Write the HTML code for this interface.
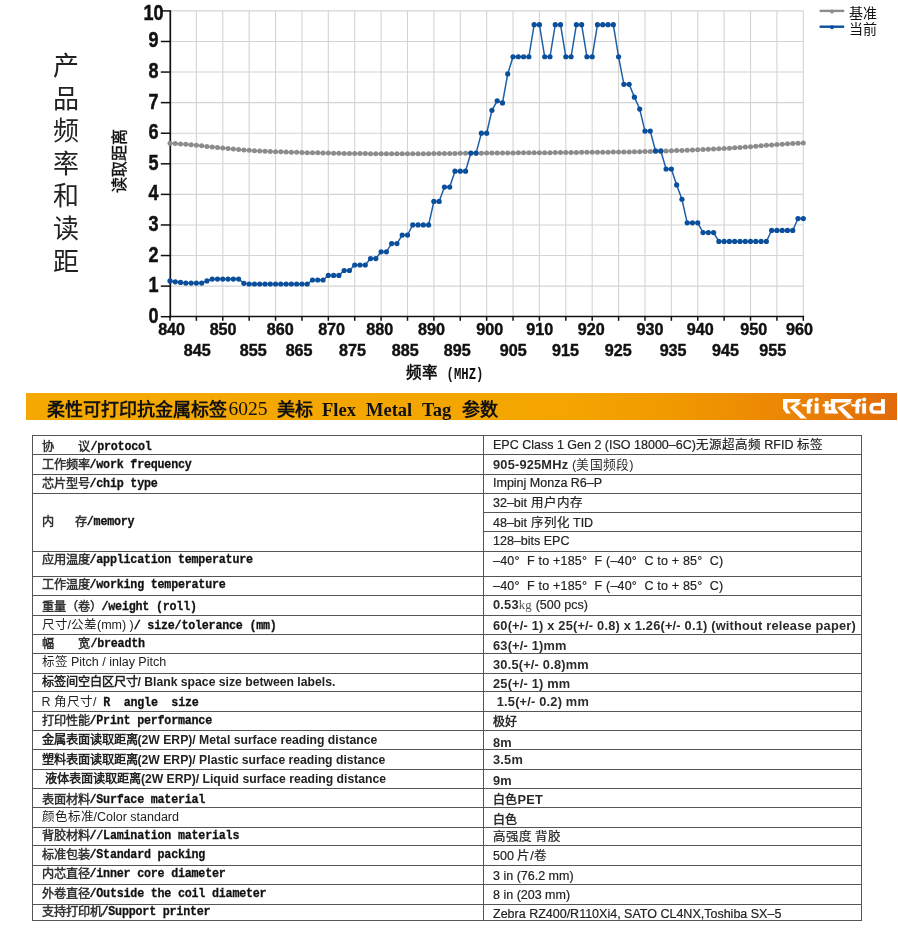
<!DOCTYPE html>
<html lang="zh-CN">
<head>
<meta charset="utf-8">
<style>
html,body{margin:0;padding:0;background:#fff;}
body{width:898px;height:930px;position:relative;overflow:hidden;will-change:transform;font-family:"Liberation Sans",sans-serif;color:#111;}
.abs{position:absolute;white-space:nowrap;}
svg text.yl{font-family:"Liberation Sans",sans-serif;font-weight:bold;font-size:22px;fill:#111;stroke:#111;stroke-width:0.5px;}
svg text.xl{font-family:"Liberation Sans",sans-serif;font-weight:bold;font-size:17px;fill:#111;stroke:#111;stroke-width:0.45px;}
.vt{position:absolute;left:52.5px;top:51px;width:27px;font-family:"Liberation Serif",serif;font-size:26px;line-height:32.6px;color:#222;text-align:center;}
.ytitle{position:absolute;left:87.5px;top:153px;width:64px;height:16px;transform:rotate(-90deg);font-weight:normal;font-size:16px;line-height:16px;color:#111;-webkit-text-stroke:0.4px #111;text-align:center;transform-origin:center;}
.xtitle{position:absolute;left:405.5px;top:364px;font-weight:bold;font-size:15.5px;line-height:18px;color:#111;}
.leg{position:absolute;font-size:14px;line-height:15px;color:#111;}
.bar{position:absolute;left:26px;top:393px;width:871px;height:27px;background:linear-gradient(to right,#f5a900 0%,#f4a500 62%,#f19800 75%,#eb8504 88%,#e26a0a 100%);}
.ttl{position:absolute;left:48px;top:398.5px;font-family:"Liberation Serif",serif;font-weight:bold;font-size:18px;line-height:22px;color:#111;}
.hl{position:absolute;height:1px;background:#555;}
.vl{position:absolute;width:1px;background:#555;}
.c1{position:absolute;left:41.5px;font-family:"Liberation Mono",monospace;font-weight:bold;font-size:11.7px;letter-spacing:-0.21px;line-height:14px;color:#111;white-space:pre;-webkit-text-stroke:0.25px #111;}
.c1 .z{font-size:12.2px;letter-spacing:0;font-weight:bold;color:#333;position:relative;top:1px;-webkit-text-stroke:0;}
.c1 .g{display:inline-block;}
.c1 .m{display:inline-block;transform:scaleY(1.15);transform-origin:0 75%;}
.c1 .s{font-family:"Liberation Sans",sans-serif;font-weight:normal;font-size:12.5px;letter-spacing:0;-webkit-text-stroke:0;color:#222;}
.c1 .sb{font-family:"Liberation Sans",sans-serif;font-weight:bold;font-size:12.2px;letter-spacing:0;-webkit-text-stroke:0;color:#222;}
.c2{position:absolute;left:493px;font-family:"Liberation Sans",sans-serif;font-size:12.5px;line-height:14px;color:#222;white-space:nowrap;-webkit-text-stroke:0.2px #222;}
.c2.b{font-weight:bold;font-size:12.8px;letter-spacing:0.2px;color:#2a2a2a;-webkit-text-stroke:0;}
.c2 .zc{font-size:12px;}
</style>
</head>
<body>
<svg width="898" height="390" style="position:absolute;left:0;top:0">
<line x1="196.39" y1="10.7" x2="196.39" y2="316.7" stroke="#d4d4d4" stroke-width="1.1"/>
<line x1="222.78" y1="10.7" x2="222.78" y2="316.7" stroke="#d4d4d4" stroke-width="1.1"/>
<line x1="249.16" y1="10.7" x2="249.16" y2="316.7" stroke="#d4d4d4" stroke-width="1.1"/>
<line x1="275.55" y1="10.7" x2="275.55" y2="316.7" stroke="#d4d4d4" stroke-width="1.1"/>
<line x1="301.94" y1="10.7" x2="301.94" y2="316.7" stroke="#d4d4d4" stroke-width="1.1"/>
<line x1="328.32" y1="10.7" x2="328.32" y2="316.7" stroke="#d4d4d4" stroke-width="1.1"/>
<line x1="354.71" y1="10.7" x2="354.71" y2="316.7" stroke="#d4d4d4" stroke-width="1.1"/>
<line x1="381.10" y1="10.7" x2="381.10" y2="316.7" stroke="#d4d4d4" stroke-width="1.1"/>
<line x1="407.49" y1="10.7" x2="407.49" y2="316.7" stroke="#d4d4d4" stroke-width="1.1"/>
<line x1="433.88" y1="10.7" x2="433.88" y2="316.7" stroke="#d4d4d4" stroke-width="1.1"/>
<line x1="460.26" y1="10.7" x2="460.26" y2="316.7" stroke="#d4d4d4" stroke-width="1.1"/>
<line x1="486.65" y1="10.7" x2="486.65" y2="316.7" stroke="#d4d4d4" stroke-width="1.1"/>
<line x1="513.04" y1="10.7" x2="513.04" y2="316.7" stroke="#d4d4d4" stroke-width="1.1"/>
<line x1="539.42" y1="10.7" x2="539.42" y2="316.7" stroke="#d4d4d4" stroke-width="1.1"/>
<line x1="565.81" y1="10.7" x2="565.81" y2="316.7" stroke="#d4d4d4" stroke-width="1.1"/>
<line x1="592.20" y1="10.7" x2="592.20" y2="316.7" stroke="#d4d4d4" stroke-width="1.1"/>
<line x1="618.59" y1="10.7" x2="618.59" y2="316.7" stroke="#d4d4d4" stroke-width="1.1"/>
<line x1="644.97" y1="10.7" x2="644.97" y2="316.7" stroke="#d4d4d4" stroke-width="1.1"/>
<line x1="671.36" y1="10.7" x2="671.36" y2="316.7" stroke="#d4d4d4" stroke-width="1.1"/>
<line x1="697.75" y1="10.7" x2="697.75" y2="316.7" stroke="#d4d4d4" stroke-width="1.1"/>
<line x1="724.14" y1="10.7" x2="724.14" y2="316.7" stroke="#d4d4d4" stroke-width="1.1"/>
<line x1="750.52" y1="10.7" x2="750.52" y2="316.7" stroke="#d4d4d4" stroke-width="1.1"/>
<line x1="776.91" y1="10.7" x2="776.91" y2="316.7" stroke="#d4d4d4" stroke-width="1.1"/>
<line x1="803.30" y1="10.7" x2="803.30" y2="316.7" stroke="#d4d4d4" stroke-width="1.1"/>
<line x1="170.0" y1="286.12" x2="803.30" y2="286.12" stroke="#d4d4d4" stroke-width="1.1"/>
<line x1="170.0" y1="255.54" x2="803.30" y2="255.54" stroke="#d4d4d4" stroke-width="1.1"/>
<line x1="170.0" y1="224.96" x2="803.30" y2="224.96" stroke="#d4d4d4" stroke-width="1.1"/>
<line x1="170.0" y1="194.38" x2="803.30" y2="194.38" stroke="#d4d4d4" stroke-width="1.1"/>
<line x1="170.0" y1="163.80" x2="803.30" y2="163.80" stroke="#d4d4d4" stroke-width="1.1"/>
<line x1="170.0" y1="133.22" x2="803.30" y2="133.22" stroke="#d4d4d4" stroke-width="1.1"/>
<line x1="170.0" y1="102.64" x2="803.30" y2="102.64" stroke="#d4d4d4" stroke-width="1.1"/>
<line x1="170.0" y1="72.06" x2="803.30" y2="72.06" stroke="#d4d4d4" stroke-width="1.1"/>
<line x1="170.0" y1="41.48" x2="803.30" y2="41.48" stroke="#d4d4d4" stroke-width="1.1"/>
<line x1="170.0" y1="10.90" x2="803.30" y2="10.90" stroke="#d4d4d4" stroke-width="1.1"/>
<line x1="170.3" y1="10.2" x2="170.3" y2="317.5" stroke="#111" stroke-width="1.7"/>
<line x1="169.4" y1="316.5" x2="804.10" y2="316.5" stroke="#111" stroke-width="1.7"/>
<line x1="160.8" y1="316.70" x2="170.0" y2="316.70" stroke="#111" stroke-width="1.5"/>
<line x1="160.8" y1="286.12" x2="170.0" y2="286.12" stroke="#111" stroke-width="1.5"/>
<line x1="160.8" y1="255.54" x2="170.0" y2="255.54" stroke="#111" stroke-width="1.5"/>
<line x1="160.8" y1="224.96" x2="170.0" y2="224.96" stroke="#111" stroke-width="1.5"/>
<line x1="160.8" y1="194.38" x2="170.0" y2="194.38" stroke="#111" stroke-width="1.5"/>
<line x1="160.8" y1="163.80" x2="170.0" y2="163.80" stroke="#111" stroke-width="1.5"/>
<line x1="160.8" y1="133.22" x2="170.0" y2="133.22" stroke="#111" stroke-width="1.5"/>
<line x1="160.8" y1="102.64" x2="170.0" y2="102.64" stroke="#111" stroke-width="1.5"/>
<line x1="160.8" y1="72.06" x2="170.0" y2="72.06" stroke="#111" stroke-width="1.5"/>
<line x1="160.8" y1="41.48" x2="170.0" y2="41.48" stroke="#111" stroke-width="1.5"/>
<line x1="160.8" y1="10.90" x2="170.0" y2="10.90" stroke="#111" stroke-width="1.5"/>
<line x1="170.00" y1="316.7" x2="170.00" y2="320.8" stroke="#111" stroke-width="1.5"/>
<line x1="196.39" y1="316.7" x2="196.39" y2="320.8" stroke="#111" stroke-width="1.5"/>
<line x1="222.78" y1="316.7" x2="222.78" y2="320.8" stroke="#111" stroke-width="1.5"/>
<line x1="249.16" y1="316.7" x2="249.16" y2="320.8" stroke="#111" stroke-width="1.5"/>
<line x1="275.55" y1="316.7" x2="275.55" y2="320.8" stroke="#111" stroke-width="1.5"/>
<line x1="301.94" y1="316.7" x2="301.94" y2="320.8" stroke="#111" stroke-width="1.5"/>
<line x1="328.32" y1="316.7" x2="328.32" y2="320.8" stroke="#111" stroke-width="1.5"/>
<line x1="354.71" y1="316.7" x2="354.71" y2="320.8" stroke="#111" stroke-width="1.5"/>
<line x1="381.10" y1="316.7" x2="381.10" y2="320.8" stroke="#111" stroke-width="1.5"/>
<line x1="407.49" y1="316.7" x2="407.49" y2="320.8" stroke="#111" stroke-width="1.5"/>
<line x1="433.88" y1="316.7" x2="433.88" y2="320.8" stroke="#111" stroke-width="1.5"/>
<line x1="460.26" y1="316.7" x2="460.26" y2="320.8" stroke="#111" stroke-width="1.5"/>
<line x1="486.65" y1="316.7" x2="486.65" y2="320.8" stroke="#111" stroke-width="1.5"/>
<line x1="513.04" y1="316.7" x2="513.04" y2="320.8" stroke="#111" stroke-width="1.5"/>
<line x1="539.42" y1="316.7" x2="539.42" y2="320.8" stroke="#111" stroke-width="1.5"/>
<line x1="565.81" y1="316.7" x2="565.81" y2="320.8" stroke="#111" stroke-width="1.5"/>
<line x1="592.20" y1="316.7" x2="592.20" y2="320.8" stroke="#111" stroke-width="1.5"/>
<line x1="618.59" y1="316.7" x2="618.59" y2="320.8" stroke="#111" stroke-width="1.5"/>
<line x1="644.97" y1="316.7" x2="644.97" y2="320.8" stroke="#111" stroke-width="1.5"/>
<line x1="671.36" y1="316.7" x2="671.36" y2="320.8" stroke="#111" stroke-width="1.5"/>
<line x1="697.75" y1="316.7" x2="697.75" y2="320.8" stroke="#111" stroke-width="1.5"/>
<line x1="724.14" y1="316.7" x2="724.14" y2="320.8" stroke="#111" stroke-width="1.5"/>
<line x1="750.52" y1="316.7" x2="750.52" y2="320.8" stroke="#111" stroke-width="1.5"/>
<line x1="776.91" y1="316.7" x2="776.91" y2="320.8" stroke="#111" stroke-width="1.5"/>
<line x1="803.30" y1="316.7" x2="803.30" y2="320.8" stroke="#111" stroke-width="1.5"/>
<polyline points="170.00,143.31 175.28,143.58 180.56,143.93 185.83,144.34 191.11,144.79 196.39,145.29 201.66,145.82 206.94,146.38 212.22,146.94 217.50,147.50 222.78,148.06 228.05,148.59 233.33,149.10 238.61,149.57 243.88,149.99 249.16,150.34 254.44,150.66 259.72,150.94 265.00,151.20 270.27,151.44 275.55,151.66 280.83,151.86 286.11,152.04 291.38,152.20 296.66,152.36 301.94,152.50 307.22,152.63 312.49,152.75 317.77,152.87 323.05,152.98 328.32,153.10 333.60,153.20 338.88,153.30 344.16,153.38 349.44,153.45 354.71,153.50 359.99,153.55 365.27,153.60 370.54,153.63 375.82,153.65 381.10,153.67 386.38,153.69 391.65,153.70 396.93,153.70 402.21,153.71 407.49,153.71 412.76,153.70 418.04,153.69 423.32,153.66 428.60,153.63 433.88,153.60 439.15,153.55 444.43,153.50 449.71,153.45 454.99,153.40 460.26,153.35 465.54,153.29 470.82,153.24 476.09,153.19 481.37,153.14 486.65,153.10 491.93,153.06 497.20,153.02 502.48,152.98 507.76,152.94 513.04,152.90 518.32,152.87 523.59,152.83 528.87,152.79 534.15,152.75 539.42,152.71 544.70,152.67 549.98,152.63 555.26,152.58 560.53,152.54 565.81,152.49 571.09,152.44 576.37,152.39 581.64,152.36 586.92,152.32 592.20,152.28 597.48,152.24 602.75,152.20 608.03,152.16 613.31,152.10 618.59,152.04 623.87,151.97 629.14,151.89 634.42,151.80 639.70,151.69 644.97,151.57 650.25,151.43 655.53,151.29 660.81,151.13 666.09,150.97 671.36,150.80 676.64,150.62 681.92,150.43 687.19,150.22 692.47,150.01 697.75,149.79 703.03,149.56 708.30,149.31 713.58,149.06 718.86,148.79 724.14,148.51 729.41,148.20 734.69,147.86 739.97,147.48 745.25,147.07 750.52,146.65 755.80,146.22 761.08,145.78 766.36,145.35 771.63,144.93 776.91,144.52 782.19,144.14 787.47,143.79 792.75,143.48 798.02,143.22 803.30,143.01" fill="none" stroke="#8c8c8c" stroke-width="1.5"/>
<circle cx="170.00" cy="143.31" r="2.5" fill="#8c8c8c"/>
<circle cx="175.28" cy="143.58" r="2.5" fill="#8c8c8c"/>
<circle cx="180.56" cy="143.93" r="2.5" fill="#8c8c8c"/>
<circle cx="185.83" cy="144.34" r="2.5" fill="#8c8c8c"/>
<circle cx="191.11" cy="144.79" r="2.5" fill="#8c8c8c"/>
<circle cx="196.39" cy="145.29" r="2.5" fill="#8c8c8c"/>
<circle cx="201.66" cy="145.82" r="2.5" fill="#8c8c8c"/>
<circle cx="206.94" cy="146.38" r="2.5" fill="#8c8c8c"/>
<circle cx="212.22" cy="146.94" r="2.5" fill="#8c8c8c"/>
<circle cx="217.50" cy="147.50" r="2.5" fill="#8c8c8c"/>
<circle cx="222.78" cy="148.06" r="2.5" fill="#8c8c8c"/>
<circle cx="228.05" cy="148.59" r="2.5" fill="#8c8c8c"/>
<circle cx="233.33" cy="149.10" r="2.5" fill="#8c8c8c"/>
<circle cx="238.61" cy="149.57" r="2.5" fill="#8c8c8c"/>
<circle cx="243.88" cy="149.99" r="2.5" fill="#8c8c8c"/>
<circle cx="249.16" cy="150.34" r="2.5" fill="#8c8c8c"/>
<circle cx="254.44" cy="150.66" r="2.5" fill="#8c8c8c"/>
<circle cx="259.72" cy="150.94" r="2.5" fill="#8c8c8c"/>
<circle cx="265.00" cy="151.20" r="2.5" fill="#8c8c8c"/>
<circle cx="270.27" cy="151.44" r="2.5" fill="#8c8c8c"/>
<circle cx="275.55" cy="151.66" r="2.5" fill="#8c8c8c"/>
<circle cx="280.83" cy="151.86" r="2.5" fill="#8c8c8c"/>
<circle cx="286.11" cy="152.04" r="2.5" fill="#8c8c8c"/>
<circle cx="291.38" cy="152.20" r="2.5" fill="#8c8c8c"/>
<circle cx="296.66" cy="152.36" r="2.5" fill="#8c8c8c"/>
<circle cx="301.94" cy="152.50" r="2.5" fill="#8c8c8c"/>
<circle cx="307.22" cy="152.63" r="2.5" fill="#8c8c8c"/>
<circle cx="312.49" cy="152.75" r="2.5" fill="#8c8c8c"/>
<circle cx="317.77" cy="152.87" r="2.5" fill="#8c8c8c"/>
<circle cx="323.05" cy="152.98" r="2.5" fill="#8c8c8c"/>
<circle cx="328.32" cy="153.10" r="2.5" fill="#8c8c8c"/>
<circle cx="333.60" cy="153.20" r="2.5" fill="#8c8c8c"/>
<circle cx="338.88" cy="153.30" r="2.5" fill="#8c8c8c"/>
<circle cx="344.16" cy="153.38" r="2.5" fill="#8c8c8c"/>
<circle cx="349.44" cy="153.45" r="2.5" fill="#8c8c8c"/>
<circle cx="354.71" cy="153.50" r="2.5" fill="#8c8c8c"/>
<circle cx="359.99" cy="153.55" r="2.5" fill="#8c8c8c"/>
<circle cx="365.27" cy="153.60" r="2.5" fill="#8c8c8c"/>
<circle cx="370.54" cy="153.63" r="2.5" fill="#8c8c8c"/>
<circle cx="375.82" cy="153.65" r="2.5" fill="#8c8c8c"/>
<circle cx="381.10" cy="153.67" r="2.5" fill="#8c8c8c"/>
<circle cx="386.38" cy="153.69" r="2.5" fill="#8c8c8c"/>
<circle cx="391.65" cy="153.70" r="2.5" fill="#8c8c8c"/>
<circle cx="396.93" cy="153.70" r="2.5" fill="#8c8c8c"/>
<circle cx="402.21" cy="153.71" r="2.5" fill="#8c8c8c"/>
<circle cx="407.49" cy="153.71" r="2.5" fill="#8c8c8c"/>
<circle cx="412.76" cy="153.70" r="2.5" fill="#8c8c8c"/>
<circle cx="418.04" cy="153.69" r="2.5" fill="#8c8c8c"/>
<circle cx="423.32" cy="153.66" r="2.5" fill="#8c8c8c"/>
<circle cx="428.60" cy="153.63" r="2.5" fill="#8c8c8c"/>
<circle cx="433.88" cy="153.60" r="2.5" fill="#8c8c8c"/>
<circle cx="439.15" cy="153.55" r="2.5" fill="#8c8c8c"/>
<circle cx="444.43" cy="153.50" r="2.5" fill="#8c8c8c"/>
<circle cx="449.71" cy="153.45" r="2.5" fill="#8c8c8c"/>
<circle cx="454.99" cy="153.40" r="2.5" fill="#8c8c8c"/>
<circle cx="460.26" cy="153.35" r="2.5" fill="#8c8c8c"/>
<circle cx="465.54" cy="153.29" r="2.5" fill="#8c8c8c"/>
<circle cx="470.82" cy="153.24" r="2.5" fill="#8c8c8c"/>
<circle cx="476.09" cy="153.19" r="2.5" fill="#8c8c8c"/>
<circle cx="481.37" cy="153.14" r="2.5" fill="#8c8c8c"/>
<circle cx="486.65" cy="153.10" r="2.5" fill="#8c8c8c"/>
<circle cx="491.93" cy="153.06" r="2.5" fill="#8c8c8c"/>
<circle cx="497.20" cy="153.02" r="2.5" fill="#8c8c8c"/>
<circle cx="502.48" cy="152.98" r="2.5" fill="#8c8c8c"/>
<circle cx="507.76" cy="152.94" r="2.5" fill="#8c8c8c"/>
<circle cx="513.04" cy="152.90" r="2.5" fill="#8c8c8c"/>
<circle cx="518.32" cy="152.87" r="2.5" fill="#8c8c8c"/>
<circle cx="523.59" cy="152.83" r="2.5" fill="#8c8c8c"/>
<circle cx="528.87" cy="152.79" r="2.5" fill="#8c8c8c"/>
<circle cx="534.15" cy="152.75" r="2.5" fill="#8c8c8c"/>
<circle cx="539.42" cy="152.71" r="2.5" fill="#8c8c8c"/>
<circle cx="544.70" cy="152.67" r="2.5" fill="#8c8c8c"/>
<circle cx="549.98" cy="152.63" r="2.5" fill="#8c8c8c"/>
<circle cx="555.26" cy="152.58" r="2.5" fill="#8c8c8c"/>
<circle cx="560.53" cy="152.54" r="2.5" fill="#8c8c8c"/>
<circle cx="565.81" cy="152.49" r="2.5" fill="#8c8c8c"/>
<circle cx="571.09" cy="152.44" r="2.5" fill="#8c8c8c"/>
<circle cx="576.37" cy="152.39" r="2.5" fill="#8c8c8c"/>
<circle cx="581.64" cy="152.36" r="2.5" fill="#8c8c8c"/>
<circle cx="586.92" cy="152.32" r="2.5" fill="#8c8c8c"/>
<circle cx="592.20" cy="152.28" r="2.5" fill="#8c8c8c"/>
<circle cx="597.48" cy="152.24" r="2.5" fill="#8c8c8c"/>
<circle cx="602.75" cy="152.20" r="2.5" fill="#8c8c8c"/>
<circle cx="608.03" cy="152.16" r="2.5" fill="#8c8c8c"/>
<circle cx="613.31" cy="152.10" r="2.5" fill="#8c8c8c"/>
<circle cx="618.59" cy="152.04" r="2.5" fill="#8c8c8c"/>
<circle cx="623.87" cy="151.97" r="2.5" fill="#8c8c8c"/>
<circle cx="629.14" cy="151.89" r="2.5" fill="#8c8c8c"/>
<circle cx="634.42" cy="151.80" r="2.5" fill="#8c8c8c"/>
<circle cx="639.70" cy="151.69" r="2.5" fill="#8c8c8c"/>
<circle cx="644.97" cy="151.57" r="2.5" fill="#8c8c8c"/>
<circle cx="650.25" cy="151.43" r="2.5" fill="#8c8c8c"/>
<circle cx="655.53" cy="151.29" r="2.5" fill="#8c8c8c"/>
<circle cx="660.81" cy="151.13" r="2.5" fill="#8c8c8c"/>
<circle cx="666.09" cy="150.97" r="2.5" fill="#8c8c8c"/>
<circle cx="671.36" cy="150.80" r="2.5" fill="#8c8c8c"/>
<circle cx="676.64" cy="150.62" r="2.5" fill="#8c8c8c"/>
<circle cx="681.92" cy="150.43" r="2.5" fill="#8c8c8c"/>
<circle cx="687.19" cy="150.22" r="2.5" fill="#8c8c8c"/>
<circle cx="692.47" cy="150.01" r="2.5" fill="#8c8c8c"/>
<circle cx="697.75" cy="149.79" r="2.5" fill="#8c8c8c"/>
<circle cx="703.03" cy="149.56" r="2.5" fill="#8c8c8c"/>
<circle cx="708.30" cy="149.31" r="2.5" fill="#8c8c8c"/>
<circle cx="713.58" cy="149.06" r="2.5" fill="#8c8c8c"/>
<circle cx="718.86" cy="148.79" r="2.5" fill="#8c8c8c"/>
<circle cx="724.14" cy="148.51" r="2.5" fill="#8c8c8c"/>
<circle cx="729.41" cy="148.20" r="2.5" fill="#8c8c8c"/>
<circle cx="734.69" cy="147.86" r="2.5" fill="#8c8c8c"/>
<circle cx="739.97" cy="147.48" r="2.5" fill="#8c8c8c"/>
<circle cx="745.25" cy="147.07" r="2.5" fill="#8c8c8c"/>
<circle cx="750.52" cy="146.65" r="2.5" fill="#8c8c8c"/>
<circle cx="755.80" cy="146.22" r="2.5" fill="#8c8c8c"/>
<circle cx="761.08" cy="145.78" r="2.5" fill="#8c8c8c"/>
<circle cx="766.36" cy="145.35" r="2.5" fill="#8c8c8c"/>
<circle cx="771.63" cy="144.93" r="2.5" fill="#8c8c8c"/>
<circle cx="776.91" cy="144.52" r="2.5" fill="#8c8c8c"/>
<circle cx="782.19" cy="144.14" r="2.5" fill="#8c8c8c"/>
<circle cx="787.47" cy="143.79" r="2.5" fill="#8c8c8c"/>
<circle cx="792.75" cy="143.48" r="2.5" fill="#8c8c8c"/>
<circle cx="798.02" cy="143.22" r="2.5" fill="#8c8c8c"/>
<circle cx="803.30" cy="143.01" r="2.5" fill="#8c8c8c"/>
<polyline points="170.00,280.92 175.28,281.84 180.56,282.45 185.83,283.06 191.11,283.06 196.39,283.06 201.66,283.06 206.94,280.92 212.22,279.09 217.50,279.09 222.78,279.09 228.05,279.09 233.33,279.09 238.61,279.09 243.88,283.37 249.16,283.98 254.44,283.98 259.72,283.98 265.00,283.98 270.27,283.98 275.55,283.98 280.83,283.98 286.11,283.98 291.38,283.98 296.66,283.98 301.94,283.98 307.22,283.98 312.49,280.00 317.77,280.00 323.05,280.00 328.32,275.42 333.60,275.42 338.88,275.42 344.16,270.52 349.44,270.52 354.71,265.02 359.99,265.02 365.27,265.02 370.54,258.60 375.82,258.60 381.10,251.87 386.38,251.87 391.65,243.61 396.93,243.61 402.21,235.05 407.49,235.05 412.76,224.96 418.04,224.96 423.32,224.96 428.60,224.96 433.88,201.41 439.15,201.41 444.43,187.04 449.71,187.04 454.99,171.14 460.26,171.14 465.54,171.14 470.82,153.10 476.09,153.10 481.37,133.22 486.65,133.22 491.93,110.28 497.20,100.81 502.48,102.95 507.76,73.89 513.04,56.77 518.32,56.77 523.59,56.77 528.87,56.77 534.15,24.66 539.42,24.66 544.70,56.77 549.98,56.77 555.26,24.66 560.53,24.66 565.81,56.77 571.09,56.77 576.37,24.66 581.64,24.66 586.92,56.77 592.20,56.77 597.48,24.66 602.75,24.66 608.03,24.66 613.31,24.66 618.59,56.77 623.87,84.29 629.14,84.29 634.42,97.14 639.70,109.06 644.97,131.08 650.25,131.08 655.53,150.96 660.81,150.96 666.09,169.00 671.36,169.00 676.64,184.90 681.92,199.27 687.19,222.82 692.47,222.82 697.75,222.82 703.03,232.60 708.30,232.60 713.58,232.60 718.86,241.47 724.14,241.47 729.41,241.47 734.69,241.47 739.97,241.47 745.25,241.47 750.52,241.47 755.80,241.47 761.08,241.47 766.36,241.47 771.63,230.46 776.91,230.46 782.19,230.46 787.47,230.46 792.75,230.46 798.02,218.54 803.30,218.54" fill="none" stroke="#1f5fa6" stroke-width="1.5"/>
<circle cx="170.00" cy="280.92" r="2.6" fill="#0a4f9c"/>
<circle cx="175.28" cy="281.84" r="2.6" fill="#0a4f9c"/>
<circle cx="180.56" cy="282.45" r="2.6" fill="#0a4f9c"/>
<circle cx="185.83" cy="283.06" r="2.6" fill="#0a4f9c"/>
<circle cx="191.11" cy="283.06" r="2.6" fill="#0a4f9c"/>
<circle cx="196.39" cy="283.06" r="2.6" fill="#0a4f9c"/>
<circle cx="201.66" cy="283.06" r="2.6" fill="#0a4f9c"/>
<circle cx="206.94" cy="280.92" r="2.6" fill="#0a4f9c"/>
<circle cx="212.22" cy="279.09" r="2.6" fill="#0a4f9c"/>
<circle cx="217.50" cy="279.09" r="2.6" fill="#0a4f9c"/>
<circle cx="222.78" cy="279.09" r="2.6" fill="#0a4f9c"/>
<circle cx="228.05" cy="279.09" r="2.6" fill="#0a4f9c"/>
<circle cx="233.33" cy="279.09" r="2.6" fill="#0a4f9c"/>
<circle cx="238.61" cy="279.09" r="2.6" fill="#0a4f9c"/>
<circle cx="243.88" cy="283.37" r="2.6" fill="#0a4f9c"/>
<circle cx="249.16" cy="283.98" r="2.6" fill="#0a4f9c"/>
<circle cx="254.44" cy="283.98" r="2.6" fill="#0a4f9c"/>
<circle cx="259.72" cy="283.98" r="2.6" fill="#0a4f9c"/>
<circle cx="265.00" cy="283.98" r="2.6" fill="#0a4f9c"/>
<circle cx="270.27" cy="283.98" r="2.6" fill="#0a4f9c"/>
<circle cx="275.55" cy="283.98" r="2.6" fill="#0a4f9c"/>
<circle cx="280.83" cy="283.98" r="2.6" fill="#0a4f9c"/>
<circle cx="286.11" cy="283.98" r="2.6" fill="#0a4f9c"/>
<circle cx="291.38" cy="283.98" r="2.6" fill="#0a4f9c"/>
<circle cx="296.66" cy="283.98" r="2.6" fill="#0a4f9c"/>
<circle cx="301.94" cy="283.98" r="2.6" fill="#0a4f9c"/>
<circle cx="307.22" cy="283.98" r="2.6" fill="#0a4f9c"/>
<circle cx="312.49" cy="280.00" r="2.6" fill="#0a4f9c"/>
<circle cx="317.77" cy="280.00" r="2.6" fill="#0a4f9c"/>
<circle cx="323.05" cy="280.00" r="2.6" fill="#0a4f9c"/>
<circle cx="328.32" cy="275.42" r="2.6" fill="#0a4f9c"/>
<circle cx="333.60" cy="275.42" r="2.6" fill="#0a4f9c"/>
<circle cx="338.88" cy="275.42" r="2.6" fill="#0a4f9c"/>
<circle cx="344.16" cy="270.52" r="2.6" fill="#0a4f9c"/>
<circle cx="349.44" cy="270.52" r="2.6" fill="#0a4f9c"/>
<circle cx="354.71" cy="265.02" r="2.6" fill="#0a4f9c"/>
<circle cx="359.99" cy="265.02" r="2.6" fill="#0a4f9c"/>
<circle cx="365.27" cy="265.02" r="2.6" fill="#0a4f9c"/>
<circle cx="370.54" cy="258.60" r="2.6" fill="#0a4f9c"/>
<circle cx="375.82" cy="258.60" r="2.6" fill="#0a4f9c"/>
<circle cx="381.10" cy="251.87" r="2.6" fill="#0a4f9c"/>
<circle cx="386.38" cy="251.87" r="2.6" fill="#0a4f9c"/>
<circle cx="391.65" cy="243.61" r="2.6" fill="#0a4f9c"/>
<circle cx="396.93" cy="243.61" r="2.6" fill="#0a4f9c"/>
<circle cx="402.21" cy="235.05" r="2.6" fill="#0a4f9c"/>
<circle cx="407.49" cy="235.05" r="2.6" fill="#0a4f9c"/>
<circle cx="412.76" cy="224.96" r="2.6" fill="#0a4f9c"/>
<circle cx="418.04" cy="224.96" r="2.6" fill="#0a4f9c"/>
<circle cx="423.32" cy="224.96" r="2.6" fill="#0a4f9c"/>
<circle cx="428.60" cy="224.96" r="2.6" fill="#0a4f9c"/>
<circle cx="433.88" cy="201.41" r="2.6" fill="#0a4f9c"/>
<circle cx="439.15" cy="201.41" r="2.6" fill="#0a4f9c"/>
<circle cx="444.43" cy="187.04" r="2.6" fill="#0a4f9c"/>
<circle cx="449.71" cy="187.04" r="2.6" fill="#0a4f9c"/>
<circle cx="454.99" cy="171.14" r="2.6" fill="#0a4f9c"/>
<circle cx="460.26" cy="171.14" r="2.6" fill="#0a4f9c"/>
<circle cx="465.54" cy="171.14" r="2.6" fill="#0a4f9c"/>
<circle cx="470.82" cy="153.10" r="2.6" fill="#0a4f9c"/>
<circle cx="476.09" cy="153.10" r="2.6" fill="#0a4f9c"/>
<circle cx="481.37" cy="133.22" r="2.6" fill="#0a4f9c"/>
<circle cx="486.65" cy="133.22" r="2.6" fill="#0a4f9c"/>
<circle cx="491.93" cy="110.28" r="2.6" fill="#0a4f9c"/>
<circle cx="497.20" cy="100.81" r="2.6" fill="#0a4f9c"/>
<circle cx="502.48" cy="102.95" r="2.6" fill="#0a4f9c"/>
<circle cx="507.76" cy="73.89" r="2.6" fill="#0a4f9c"/>
<circle cx="513.04" cy="56.77" r="2.6" fill="#0a4f9c"/>
<circle cx="518.32" cy="56.77" r="2.6" fill="#0a4f9c"/>
<circle cx="523.59" cy="56.77" r="2.6" fill="#0a4f9c"/>
<circle cx="528.87" cy="56.77" r="2.6" fill="#0a4f9c"/>
<circle cx="534.15" cy="24.66" r="2.6" fill="#0a4f9c"/>
<circle cx="539.42" cy="24.66" r="2.6" fill="#0a4f9c"/>
<circle cx="544.70" cy="56.77" r="2.6" fill="#0a4f9c"/>
<circle cx="549.98" cy="56.77" r="2.6" fill="#0a4f9c"/>
<circle cx="555.26" cy="24.66" r="2.6" fill="#0a4f9c"/>
<circle cx="560.53" cy="24.66" r="2.6" fill="#0a4f9c"/>
<circle cx="565.81" cy="56.77" r="2.6" fill="#0a4f9c"/>
<circle cx="571.09" cy="56.77" r="2.6" fill="#0a4f9c"/>
<circle cx="576.37" cy="24.66" r="2.6" fill="#0a4f9c"/>
<circle cx="581.64" cy="24.66" r="2.6" fill="#0a4f9c"/>
<circle cx="586.92" cy="56.77" r="2.6" fill="#0a4f9c"/>
<circle cx="592.20" cy="56.77" r="2.6" fill="#0a4f9c"/>
<circle cx="597.48" cy="24.66" r="2.6" fill="#0a4f9c"/>
<circle cx="602.75" cy="24.66" r="2.6" fill="#0a4f9c"/>
<circle cx="608.03" cy="24.66" r="2.6" fill="#0a4f9c"/>
<circle cx="613.31" cy="24.66" r="2.6" fill="#0a4f9c"/>
<circle cx="618.59" cy="56.77" r="2.6" fill="#0a4f9c"/>
<circle cx="623.87" cy="84.29" r="2.6" fill="#0a4f9c"/>
<circle cx="629.14" cy="84.29" r="2.6" fill="#0a4f9c"/>
<circle cx="634.42" cy="97.14" r="2.6" fill="#0a4f9c"/>
<circle cx="639.70" cy="109.06" r="2.6" fill="#0a4f9c"/>
<circle cx="644.97" cy="131.08" r="2.6" fill="#0a4f9c"/>
<circle cx="650.25" cy="131.08" r="2.6" fill="#0a4f9c"/>
<circle cx="655.53" cy="150.96" r="2.6" fill="#0a4f9c"/>
<circle cx="660.81" cy="150.96" r="2.6" fill="#0a4f9c"/>
<circle cx="666.09" cy="169.00" r="2.6" fill="#0a4f9c"/>
<circle cx="671.36" cy="169.00" r="2.6" fill="#0a4f9c"/>
<circle cx="676.64" cy="184.90" r="2.6" fill="#0a4f9c"/>
<circle cx="681.92" cy="199.27" r="2.6" fill="#0a4f9c"/>
<circle cx="687.19" cy="222.82" r="2.6" fill="#0a4f9c"/>
<circle cx="692.47" cy="222.82" r="2.6" fill="#0a4f9c"/>
<circle cx="697.75" cy="222.82" r="2.6" fill="#0a4f9c"/>
<circle cx="703.03" cy="232.60" r="2.6" fill="#0a4f9c"/>
<circle cx="708.30" cy="232.60" r="2.6" fill="#0a4f9c"/>
<circle cx="713.58" cy="232.60" r="2.6" fill="#0a4f9c"/>
<circle cx="718.86" cy="241.47" r="2.6" fill="#0a4f9c"/>
<circle cx="724.14" cy="241.47" r="2.6" fill="#0a4f9c"/>
<circle cx="729.41" cy="241.47" r="2.6" fill="#0a4f9c"/>
<circle cx="734.69" cy="241.47" r="2.6" fill="#0a4f9c"/>
<circle cx="739.97" cy="241.47" r="2.6" fill="#0a4f9c"/>
<circle cx="745.25" cy="241.47" r="2.6" fill="#0a4f9c"/>
<circle cx="750.52" cy="241.47" r="2.6" fill="#0a4f9c"/>
<circle cx="755.80" cy="241.47" r="2.6" fill="#0a4f9c"/>
<circle cx="761.08" cy="241.47" r="2.6" fill="#0a4f9c"/>
<circle cx="766.36" cy="241.47" r="2.6" fill="#0a4f9c"/>
<circle cx="771.63" cy="230.46" r="2.6" fill="#0a4f9c"/>
<circle cx="776.91" cy="230.46" r="2.6" fill="#0a4f9c"/>
<circle cx="782.19" cy="230.46" r="2.6" fill="#0a4f9c"/>
<circle cx="787.47" cy="230.46" r="2.6" fill="#0a4f9c"/>
<circle cx="792.75" cy="230.46" r="2.6" fill="#0a4f9c"/>
<circle cx="798.02" cy="218.54" r="2.6" fill="#0a4f9c"/>
<circle cx="803.30" cy="218.54" r="2.6" fill="#0a4f9c"/>
<text x="0" y="0" transform="translate(153.5,322.70) scale(0.82,1)" text-anchor="middle" class="yl">0</text>
<text x="0" y="0" transform="translate(153.5,292.12) scale(0.82,1)" text-anchor="middle" class="yl">1</text>
<text x="0" y="0" transform="translate(153.5,261.54) scale(0.82,1)" text-anchor="middle" class="yl">2</text>
<text x="0" y="0" transform="translate(153.5,230.96) scale(0.82,1)" text-anchor="middle" class="yl">3</text>
<text x="0" y="0" transform="translate(153.5,200.38) scale(0.82,1)" text-anchor="middle" class="yl">4</text>
<text x="0" y="0" transform="translate(153.5,169.80) scale(0.82,1)" text-anchor="middle" class="yl">5</text>
<text x="0" y="0" transform="translate(153.5,139.22) scale(0.82,1)" text-anchor="middle" class="yl">6</text>
<text x="0" y="0" transform="translate(153.5,108.64) scale(0.82,1)" text-anchor="middle" class="yl">7</text>
<text x="0" y="0" transform="translate(153.5,78.06) scale(0.82,1)" text-anchor="middle" class="yl">8</text>
<text x="0" y="0" transform="translate(153.5,47.48) scale(0.82,1)" text-anchor="middle" class="yl">9</text>
<text x="0" y="0" transform="translate(153.5,20.40) scale(0.82,1)" text-anchor="middle" class="yl">10</text>
<text transform="translate(171.6,335.4) scale(0.95,1)" text-anchor="middle" class="xl">840</text>
<text transform="translate(223.1,335.4) scale(0.95,1)" text-anchor="middle" class="xl">850</text>
<text transform="translate(280.2,335.4) scale(0.95,1)" text-anchor="middle" class="xl">860</text>
<text transform="translate(331.6,335.4) scale(0.95,1)" text-anchor="middle" class="xl">870</text>
<text transform="translate(379.8,335.4) scale(0.95,1)" text-anchor="middle" class="xl">880</text>
<text transform="translate(431.4,335.4) scale(0.95,1)" text-anchor="middle" class="xl">890</text>
<text transform="translate(489.7,335.4) scale(0.95,1)" text-anchor="middle" class="xl">900</text>
<text transform="translate(539.8,335.4) scale(0.95,1)" text-anchor="middle" class="xl">910</text>
<text transform="translate(591.3,335.4) scale(0.95,1)" text-anchor="middle" class="xl">920</text>
<text transform="translate(649.9,335.4) scale(0.95,1)" text-anchor="middle" class="xl">930</text>
<text transform="translate(700.2,335.4) scale(0.95,1)" text-anchor="middle" class="xl">940</text>
<text transform="translate(753.8,335.4) scale(0.95,1)" text-anchor="middle" class="xl">950</text>
<text transform="translate(799.5,335.4) scale(0.95,1)" text-anchor="middle" class="xl">960</text>
<text transform="translate(197.2,355.6) scale(0.95,1)" text-anchor="middle" class="xl">845</text>
<text transform="translate(253.2,355.6) scale(0.95,1)" text-anchor="middle" class="xl">855</text>
<text transform="translate(299.1,355.6) scale(0.95,1)" text-anchor="middle" class="xl">865</text>
<text transform="translate(352.5,355.6) scale(0.95,1)" text-anchor="middle" class="xl">875</text>
<text transform="translate(405.3,355.6) scale(0.95,1)" text-anchor="middle" class="xl">885</text>
<text transform="translate(457.3,355.6) scale(0.95,1)" text-anchor="middle" class="xl">895</text>
<text transform="translate(513.2,355.6) scale(0.95,1)" text-anchor="middle" class="xl">905</text>
<text transform="translate(565.4,355.6) scale(0.95,1)" text-anchor="middle" class="xl">915</text>
<text transform="translate(618.3,355.6) scale(0.95,1)" text-anchor="middle" class="xl">925</text>
<text transform="translate(673.1,355.6) scale(0.95,1)" text-anchor="middle" class="xl">935</text>
<text transform="translate(725.4,355.6) scale(0.95,1)" text-anchor="middle" class="xl">945</text>
<text transform="translate(772.7,355.6) scale(0.95,1)" text-anchor="middle" class="xl">955</text>
<line x1="819.6" y1="10.9" x2="844.2" y2="10.9" stroke="#8c8c8c" stroke-width="2.4"/>
<circle cx="832" cy="11.5" r="2" fill="#8c8c8c"/>
<line x1="819.6" y1="26.7" x2="844.2" y2="26.7" stroke="#0a4f9c" stroke-width="2.4"/>
<circle cx="832" cy="27.3" r="2" fill="#0a4f9c"/>
</svg>
<div class="leg" style="left:849px;top:6px">基准</div>
<div class="leg" style="left:849px;top:22px">当前</div>
<div class="vt">产<br>品<br>频<br>率<br>和<br>读<br>距</div>
<div class="ytitle">读取距离</div>
<div class="xtitle">频率</div><div class="xtitle" style="left:446.5px;top:366.5px;font-family:'Liberation Mono',monospace;font-size:12.3px;transform:scaleY(1.4);transform-origin:0 70%">(MHZ)</div>

<div class="bar"></div>
<div class="ttl" style="left:47px">柔性可打印抗金属标签</div>
<div class="ttl" style="left:228.5px;top:397.5px;font-weight:normal;font-size:19.5px">6025</div>
<div class="ttl" style="left:276.5px">美标</div>
<div class="ttl" style="left:322px;font-size:18.5px;word-spacing:5.5px">Flex Metal Tag</div>
<div class="ttl" style="left:462px">参数</div>
<svg width="898" height="30" style="position:absolute;left:0;top:393px" viewBox="0 393 898 30">
<g fill="#fff">
<path d="M783,399 L800.8,399 L798.8,402.4 L787.4,402.4 L787.4,408.6 L790.8,413.6 L786.4,413.6 L783,408.8 Z"/>
<path d="M796.4,402.4 L801.4,402.4 L795.2,407.2 L806.8,418.4 L800.6,418.4 L789.8,407.6 Z"/>
<path d="M806.8,413.6 L806.8,403.4 Q806.8,398.7 811.4,398.7 L813,398.7 L812.4,401.8 L811.6,401.8 Q810.6,401.8 810.6,403.4 L810.6,404.2 L812,404.2 L812,406.6 L810.6,406.6 L810.6,413.6 Z M801.2,404.2 L806.8,404.2 L806.8,406.6 L802.6,406.6 Z"/>
<circle cx="816.6" cy="399.4" r="2"/>
<rect x="814.6" y="403.2" width="4" height="10.4"/>
<path d="M824.8,401 L828.6,401 L828.6,404.2 L831.2,404.2 L831.2,406.6 L828.6,406.6 L828.6,410 L832.6,410 L836.4,413.6 L824.8,413.6 Z M822.6,404.2 L824.8,404.2 L824.8,406.6 L822.6,406.6 Z"/>
<path d="M830.8,399 L852,399 L850,402.4 L835.2,402.4 L835.2,408.6 L838.6,413.6 L834.2,413.6 L830.8,408.8 Z"/>
<path d="M847.6,402.4 L852.6,402.4 L842.6,407.2 L853.8,418.4 L847.6,418.4 L837.2,407.6 Z"/>
<path d="M855.4,413.6 L855.4,403.4 Q855.4,398.7 860,398.7 L861.6,398.7 L861,401.8 L860.2,401.8 Q859.2,401.8 859.2,403.4 L859.2,404.2 L860.6,404.2 L860.6,406.6 L859.2,406.6 L859.2,413.6 Z M850.8,404.2 L855.4,404.2 L855.4,406.6 L851.8,406.6 Z"/>
<circle cx="864.2" cy="399.4" r="2"/>
<rect x="862.2" y="403.2" width="3.9" height="10.4"/>
<path d="M881,399 L884.9,399 L884.9,413.7 L874.2,413.7 Q869.3,413.7 869.3,408.2 Q869.3,402.7 874.2,402.7 L881,402.7 Z M881,405.9 L874.8,405.9 Q873,405.9 873,408.2 Q873,410.5 874.8,410.5 L881,410.5 Z" fill-rule="evenodd"/>
</g>
</svg>

<div class="hl" style="left:32px;top:435px;width:830px"></div>
<div class="hl" style="left:32px;top:454px;width:830px"></div>
<div class="hl" style="left:32px;top:474px;width:830px"></div>
<div class="hl" style="left:32px;top:493px;width:830px"></div>
<div class="hl" style="left:32px;top:551px;width:830px"></div>
<div class="hl" style="left:32px;top:576px;width:830px"></div>
<div class="hl" style="left:32px;top:595px;width:830px"></div>
<div class="hl" style="left:32px;top:615px;width:830px"></div>
<div class="hl" style="left:32px;top:634px;width:830px"></div>
<div class="hl" style="left:32px;top:653px;width:830px"></div>
<div class="hl" style="left:32px;top:673px;width:830px"></div>
<div class="hl" style="left:32px;top:691px;width:830px"></div>
<div class="hl" style="left:32px;top:711px;width:830px"></div>
<div class="hl" style="left:32px;top:730px;width:830px"></div>
<div class="hl" style="left:32px;top:749px;width:830px"></div>
<div class="hl" style="left:32px;top:769px;width:830px"></div>
<div class="hl" style="left:32px;top:788px;width:830px"></div>
<div class="hl" style="left:32px;top:807px;width:830px"></div>
<div class="hl" style="left:32px;top:827px;width:830px"></div>
<div class="hl" style="left:32px;top:845px;width:830px"></div>
<div class="hl" style="left:32px;top:865px;width:830px"></div>
<div class="hl" style="left:32px;top:884px;width:830px"></div>
<div class="hl" style="left:32px;top:904px;width:830px"></div>
<div class="hl" style="left:32px;top:920px;width:830px"></div>
<div class="hl" style="left:483px;top:512px;width:379px"></div>
<div class="hl" style="left:483px;top:531px;width:379px"></div>
<div class="vl" style="left:32px;top:435px;height:486px"></div>
<div class="vl" style="left:483px;top:435px;height:486px"></div>
<div class="vl" style="left:861px;top:435px;height:486px"></div>
<div class="c1" style="top:439.8px"><span class="z">协</span><span class="g" style="width:24.9px"></span><span class="z">议</span><span class="m">/protocol</span></div>
<div class="c1" style="top:457.7px"><span class="z">工作频率</span><span class="m">/work frequency</span></div>
<div class="c1" style="top:476.6px"><span class="z">芯片型号</span><span class="m">/chip type</span></div>
<div class="c1" style="top:514.6px"><span class="z">内</span><span class="g" style="width:21.3px"></span><span class="z">存</span><span class="m">/memory</span></div>
<div class="c1" style="top:553.3px"><span class="z">应用温度</span><span class="m">/application temperature</span></div>
<div class="c1" style="top:577.7px"><span class="z">工作温度</span><span class="m">/working temperature</span></div>
<div class="c1" style="top:599.6px"><span class="z">重量（卷）</span><span class="m">/weight (roll)</span></div>
<div class="c1" style="top:617.9px"><span class="s">尺寸/公差(mm) )</span><span class="m">/ size/tolerance (mm)</span></div>
<div class="c1" style="top:637.0px"><span class="z">幅</span><span class="g" style="width:24.9px"></span><span class="z">宽</span><span class="m">/breadth</span></div>
<div class="c1" style="top:655.3px"><span class="s">标签 Pitch / inlay Pitch</span></div>
<div class="c1" style="top:675.4px"><span class="sb">标签间空白区尺寸/ Blank space size between labels.</span></div>
<div class="c1" style="top:694.6px"><span class="s">R 角尺寸/</span><span class="m"> R  angle  size</span></div>
<div class="c1" style="top:713.8px"><span class="z">打印性能</span><span class="m">/Print performance</span></div>
<div class="c1" style="top:733.0px"><span class="sb">金属表面读取距离(2W ERP)/ Metal surface reading distance</span></div>
<div class="c1" style="top:753.3px"><span class="sb">塑料表面读取距离(2W ERP)/ Plastic surface reading distance</span></div>
<div class="c1" style="top:771.6px"><span class="sb"> 液体表面读取距离(2W ERP)/ Liquid surface reading distance</span></div>
<div class="c1" style="top:792.6px"><span class="z">表面材料</span><span class="m">/Surface material</span></div>
<div class="c1" style="top:810.3px"><span class="s">颜色标准/Color standard</span></div>
<div class="c1" style="top:829.3px"><span class="z">背胶材料</span><span class="m">//Lamination materials</span></div>
<div class="c1" style="top:848.0px"><span class="z">标准包装</span><span class="m">/Standard packing</span></div>
<div class="c1" style="top:867.4px"><span class="z">内芯直径</span><span class="m">/inner core diameter</span></div>
<div class="c1" style="top:886.7px"><span class="z">外卷直径</span><span class="m">/Outside the coil diameter</span></div>
<div class="c1" style="top:905.4px"><span class="z">支持打印机</span><span class="m">/Support printer</span></div>
<div class="c2 " style="top:437.9px">EPC Class 1 Gen 2 (ISO 18000–6C)无源超高频 RFID 标签</div>
<div class="c2 b" style="top:458.3px">905-925MHz <span style="font-weight:normal">(美国频段)</span></div>
<div class="c2 " style="top:476.4px">Impinj Monza R6–P</div>
<div class="c2 " style="top:495.7px">32–bit 用户内存</div>
<div class="c2 " style="top:515.5px">48–bit 序列化 TID</div>
<div class="c2 " style="top:534.1px">128–bits EPC</div>
<div class="c2 " style="top:554.3px"><span style="letter-spacing:0.2px">–40°&nbsp; F to +185°&nbsp; F (–40°&nbsp; C to + 85°&nbsp; C)</span></div>
<div class="c2 " style="top:579.3px"><span style="letter-spacing:0.2px">–40°&nbsp; F to +185°&nbsp; F (–40°&nbsp; C to + 85°&nbsp; C)</span></div>
<div class="c2 b" style="top:597.8px">0.53<span style="font-family:'Liberation Serif',serif;font-weight:normal;color:#555">kg</span> <span style="font-weight:normal;font-size:12.5px;letter-spacing:0;-webkit-text-stroke:0.2px #222">(500 pcs)</span></div>
<div class="c2 b" style="top:619.0px">60(+/- 1) x 25(+/- 0.8) x 1.26(+/- 0.1) (without release paper)</div>
<div class="c2 b" style="top:638.6px">63(+/- 1)mm</div>
<div class="c2 b" style="top:658.0px">30.5(+/- 0.8)mm</div>
<div class="c2 b" style="top:676.9px">25(+/- 1) mm</div>
<div class="c2 b" style="top:694.7px">&nbsp;1.5(+/- 0.2) mm</div>
<div class="c2 b" style="top:715.4px"><span class="zc">极好</span></div>
<div class="c2 b" style="top:735.9px">8m</div>
<div class="c2 b" style="top:752.8px">3.5m</div>
<div class="c2 b" style="top:773.5px">9m</div>
<div class="c2 b" style="top:793.2px"><span class="zc">白色</span>PET</div>
<div class="c2 b" style="top:813.2px"><span class="zc">白色</span></div>
<div class="c2 " style="top:830.3px">高强度 背胶</div>
<div class="c2 " style="top:849.3px">500 片/卷</div>
<div class="c2 " style="top:868.6px">3 in (76.2 mm)</div>
<div class="c2 " style="top:888.0px">8 in (203 mm)</div>
<div class="c2 " style="top:906.5px">Zebra RZ400/R110Xi4, SATO CL4NX,Toshiba SX–5</div>
</body>
</html>
